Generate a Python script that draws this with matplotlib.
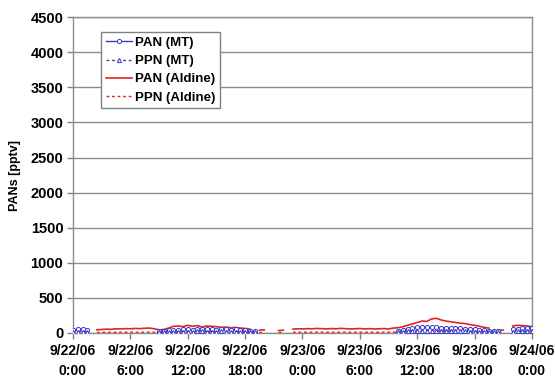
import numpy as np
import matplotlib
matplotlib.use("Agg")
import matplotlib.pyplot as plt

nan = np.nan

# Half-hourly sample times, hours since 9/22/06 0:00
hours = np.arange(0, 48.5, 0.5)

# PAN at Moody Tower (pptv)
pan_mt = [
    40, 55, 50, 45, nan, nan, nan, nan,
    nan, nan, nan, nan, nan, nan, nan, nan,
    nan, nan, 30, 35, 40, 45, 40, 50,
    55, 45, 50, 60, 55, 50, 45, 55,
    50, 45, 50, 40, 45, 35, 30, nan,
    nan, nan, nan, nan, nan, nan, nan, nan,
    nan, nan, nan, nan, nan, nan, nan, nan,
    nan, nan, nan, nan, nan, nan, nan, nan,
    nan, nan, nan, nan, 30, 45, 60, 70,
    80, 85, 90, 80, 85, 75, 70, 72,
    68, 65, 60, 55, 50, 45, 40, 35,
    35, 30, nan, nan, 50, 60, 65, 70,
    75,
]

# PPN at Moody Tower (pptv)
ppn_mt = [
    15, 20, 18, 15, nan, nan, nan, nan,
    nan, nan, nan, nan, nan, nan, nan, nan,
    nan, nan, 10, 12, 15, 18, 15, 20,
    20, 18, 22, 25, 20, 18, 20, 22,
    20, 18, 20, 15, 18, 14, 12, nan,
    nan, nan, nan, nan, nan, nan, nan, nan,
    nan, nan, nan, nan, nan, nan, nan, nan,
    nan, nan, nan, nan, nan, nan, nan, nan,
    nan, nan, nan, nan, 12, 18, 22, 25,
    28, 30, 32, 30, 28, 27, 25, 26,
    24, 22, 22, 20, 18, 16, 15, 14,
    14, 12, nan, nan, 20, 22, 25, 28,
    30,
]

# PAN at Aldine (pptv)
pan_aldine = [
    nan, nan, nan, nan, nan, 45, 50, 55,
    52, 60, 58, 62, 60, 65, 62, 68,
    70, 60, 45, 50, 70, 95, 100, 90,
    110, 95, 105, 85, 100, 95, 90, 80,
    85, 75, 80, 70, 65, 55, nan, 40,
    45, nan, nan, 35, 40, nan, 55, 60,
    58, 62, 60, 65, 62, 58, 63, 60,
    66, 62, 58, 60, 64, 58, 62, 57,
    60, 63, 58, 70, 75, 90, 110, 130,
    150, 170, 165, 200, 210, 185, 170, 160,
    150, 140, 135, 120, 110, 95, 80, 70,
    nan, 45, 40, nan, 100, 110, 105, 100,
    90,
]

# PPN at Aldine (pptv)
ppn_aldine = [
    nan, nan, nan, nan, nan, 8, 9, 10,
    9, 10, 11, 10, 12, 11, 10, 12,
    12, 11, 9, 10, 12, 15, 16, 15,
    18, 16, 17, 15, 16, 15, 14, 13,
    14, 12, 13, 12, 11, 10, nan, 8,
    8, nan, nan, 7, 8, nan, 10, 11,
    10, 11, 10, 12, 11, 10, 11, 10,
    12, 11, 10, 10, 11, 10, 11, 10,
    10, 11, 10, 12, 13, 15, 18, 20,
    24, 27, 26, 30, 32, 29, 27, 25,
    24, 22, 21, 19, 17, 15, 13, 12,
    nan, 8, 7, nan, 16, 18, 17, 16,
    15,
]

tick_hours = [0, 6, 12, 18, 24, 30, 36, 42, 48]
tick_labels = [
    "9/22/06\n0:00", "9/22/06\n6:00", "9/22/06\n12:00", "9/22/06\n18:00",
    "9/23/06\n0:00", "9/23/06\n6:00", "9/23/06\n12:00", "9/23/06\n18:00",
    "9/24/06\n0:00",
]
y_ticks = [0, 500, 1000, 1500, 2000, 2500, 3000, 3500, 4000, 4500]

plt.rcParams["font.family"] = ["Liberation Sans", "DejaVu Sans"]
plt.rcParams["font.weight"] = "bold"

fig = plt.figure(figsize=(5.55, 3.81), dpi=100)
ax = fig.add_axes([0.1315, 0.126, 0.827, 0.829])

blue = "#3a3ac8"
red = "#e02424"

ax.plot(hours, pan_aldine, color=red, lw=1.2, zorder=3, label="PAN (Aldine)")
ax.plot(hours, ppn_aldine, color=red, lw=1.0, ls=(0, (2, 2)), zorder=3,
        label="PPN (Aldine)")
ax.plot(hours, pan_mt, color=blue, lw=1.0, marker="o", ms=3,
        mfc="white", mec=blue, mew=0.7, zorder=4, label="PAN (MT)")
ax.plot(hours, ppn_mt, color=blue, lw=1.0, ls=(0, (2, 2)), marker="^", ms=3,
        mfc="white", mec=blue, mew=0.7, zorder=4, label="PPN (MT)")

ax.set_xlim(0, 48)
ax.set_ylim(0, 4500)
ax.set_xticks(tick_hours)
ax.set_xticklabels(tick_labels, fontsize=10, fontweight="bold", linespacing=1.55)
ax.set_yticks(y_ticks)
ax.set_yticklabels([str(v) for v in y_ticks], fontsize=10.5, fontweight="bold")
ax.tick_params(axis="both", direction="out", length=4, color="#808080",
               width=1, pad=3)
ax.tick_params(axis="x", pad=4)
ax.grid(axis="y", color="#8c8c8c", lw=1)
ax.set_axisbelow(True)
for sp in ax.spines.values():
    sp.set_color("#8c8c8c")
    sp.set_linewidth(1)

ax.set_ylabel("PANs [pptv]", fontsize=9, fontweight="bold", labelpad=7)

handles, labels = ax.get_legend_handles_labels()
order = [2, 3, 0, 1]
leg = ax.legend([handles[i] for i in order], [labels[i] for i in order],
                loc="upper left", bbox_to_anchor=(0.061, 0.9525),
                borderaxespad=0, handlelength=2.0,
                handletextpad=0.2, labelspacing=0.45, borderpad=0.35,
                fancybox=False, framealpha=1, edgecolor="#808080",
                prop={"weight": "bold", "size": 9.5})
leg.get_frame().set_linewidth(1)

fig.savefig("out.png", dpi=100)
